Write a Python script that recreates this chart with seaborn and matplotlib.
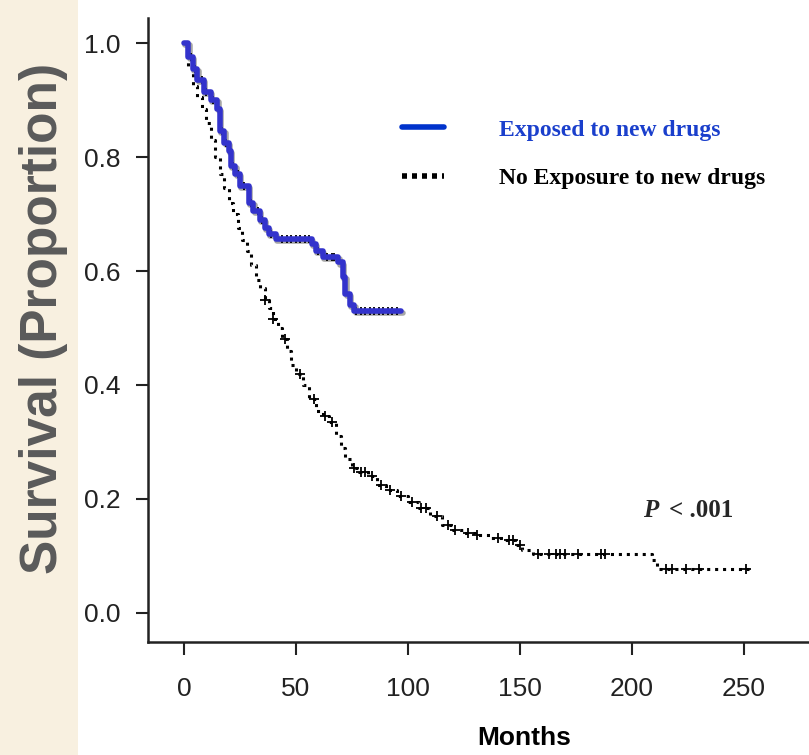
import numpy as np
import pandas as pd
import seaborn as sns
import matplotlib.pyplot as plt
import matplotlib.patheffects as pe
from matplotlib.patches import Rectangle
from matplotlib.lines import Line2D

# Kaplan-Meier step points (months, survival proportion)
exp_months = [0, 2, 4, 6, 9, 12, 15, 16, 18, 20, 21, 23, 25, 29, 31, 34, 36, 38, 41,
              57, 59, 62, 69, 71, 72, 74, 76, 97]
exp_surv = [1.0, 0.975, 0.955, 0.935, 0.915, 0.90, 0.885, 0.845, 0.825, 0.81, 0.785, 0.77,
            0.75, 0.72, 0.705, 0.69, 0.675, 0.665, 0.657, 0.648, 0.635, 0.625, 0.615, 0.59,
            0.56, 0.54, 0.53, 0.53]

noexp_months = [0, 2, 4, 6, 8, 10, 12, 14, 16, 18, 20, 22, 24, 26, 28, 30, 32, 34, 36, 38,
                40, 42, 44, 46, 48, 50, 53, 56, 59, 62, 65, 68, 70, 72, 75, 78, 82, 86, 90,
                95, 100, 105, 110, 115, 120, 125, 130, 137, 143, 148, 151, 156, 209, 211, 252]
noexp_surv = [1.0, 0.96, 0.925, 0.905, 0.885, 0.86, 0.83, 0.80, 0.77, 0.745, 0.72, 0.70,
              0.675, 0.655, 0.635, 0.61, 0.585, 0.57, 0.55, 0.535, 0.515, 0.50, 0.48, 0.46,
              0.435, 0.42, 0.40, 0.375, 0.355, 0.345, 0.335, 0.31, 0.29, 0.27, 0.255, 0.248,
              0.24, 0.225, 0.215, 0.205, 0.195, 0.185, 0.17, 0.155, 0.145, 0.14, 0.137, 0.131,
              0.128, 0.12, 0.11, 0.104, 0.093, 0.077, 0.077]

# censoring times
exp_censor = [3, 5, 8, 10, 13, 17, 19, 22, 24, 27, 30, 33, 35, 39, 44, 46, 48, 50, 52, 54,
              56, 60, 64, 66, 67, 77, 79, 81, 83, 85, 87, 89, 91, 93, 95]
noexp_censor = [36, 40, 45, 52, 58, 63, 66, 76, 79, 81, 84, 88, 92, 97, 102, 106, 108, 113,
                118, 121, 127, 131, 140, 145, 147, 150, 158, 163, 166, 168, 170, 176, 186,
                188, 215, 218, 224, 230, 251]

x_ticks = [0, 50, 100, 150, 200, 250]
y_ticks = [0.0, 0.2, 0.4, 0.6, 0.8, 1.0]
labels = ["Exposed to new drugs", "No Exposure to new drugs"]


def surv_at(t, months, surv):
    idx = np.searchsorted(months, t, side="right") - 1
    return np.array(surv)[idx]


sns.set_theme(style="white")
plt.rcParams["font.family"] = ["Liberation Sans", "DejaVu Sans"]

fig = plt.figure(figsize=(8.09, 7.55), dpi=100)
fig.patches.append(Rectangle((0, 0), 78 / 809, 1, transform=fig.transFigure,
                             facecolor="#f8f0e0", edgecolor="none", zorder=0))
ax = fig.add_axes([148 / 809, 1 - 642 / 755, 1 - 148 / 809, (642 - 18) / 755])
ax.set_facecolor("none")

df_exp = pd.DataFrame({"Months": exp_months, "Survival": exp_surv})
df_no = pd.DataFrame({"Months": noexp_months, "Survival": noexp_surv})

# no exposure curve: dotted with censor marks
sns.lineplot(data=df_no, x="Months", y="Survival", ax=ax, color="black", linewidth=2.2,
             drawstyle="steps-post", dashes=False, linestyle=(0, (1.0, 1.6)), zorder=2)
sns.scatterplot(x=noexp_censor, y=surv_at(noexp_censor, noexp_months, noexp_surv), ax=ax,
                marker="+", color="black", s=45, linewidth=1.3, zorder=2)

# exposed curve: black censor fuzz under a thick blue line
sns.scatterplot(x=exp_censor, y=surv_at(exp_censor, exp_months, exp_surv), ax=ax,
                marker="|", color="black", s=40, linewidth=1.3, zorder=3)
sns.lineplot(data=df_exp, x="Months", y="Survival", ax=ax, color="#3333cc", linewidth=4,
             drawstyle="steps-post", zorder=4,
             path_effects=[pe.SimpleLineShadow(offset=(1, -1.5), shadow_color="black", alpha=0.35),
                           pe.Normal()])

ax.set_xlim(-16, 279)
ax.set_ylim(-0.051, 1.044)
ax.set_xticks(x_ticks)
ax.set_yticks(y_ticks)
ax.set_xticklabels([str(v) for v in x_ticks])
ax.set_yticklabels([f"{v:.1f}" for v in y_ticks])
ax.tick_params(axis="both", labelsize=19, colors="#222222", direction="out",
               length=9, width=1.5, left=True, bottom=True)
ax.tick_params(axis="y", pad=11)
ax.tick_params(axis="x", pad=16)
for side in ["top", "right"]:
    ax.spines[side].set_visible(False)
for side in ["left", "bottom"]:
    ax.spines[side].set_color("#222222")
    ax.spines[side].set_linewidth(1.8)
ax.set_xlabel("")
ax.set_ylabel("")

# legend
handles = [Line2D([], [], color="#0033cc", linewidth=4),
           Line2D([], [], color="black", linewidth=4, linestyle=(0, (0.9, 0.9)))]
leg = ax.legend(handles, labels, loc="upper left", bbox_to_anchor=(0.384, 0.838),
                frameon=False, borderpad=0, borderaxespad=0, handlelength=1.8,
                handletextpad=2.3, labelspacing=1.15,
                prop={"family": "Liberation Serif", "weight": "bold", "size": 17})
leg.get_texts()[0].set_color("#1a3fcc")
leg.get_texts()[1].set_color("black")

# p-value
ax.text(205, 0.179, "P", fontfamily="Liberation Serif", fontweight="bold", fontstyle="italic",
        fontsize=18, ha="left", va="center")
ax.text(216.5, 0.179, "< .001", fontfamily="Liberation Serif", fontweight="bold",
        fontsize=18, ha="left", va="center")

# axis titles
fig.text(44 / 809, 1 - 318 / 755, "Survival (Proportion)", rotation=90, ha="center",
         va="center", fontsize=37, fontweight="bold", color="#5a5a5a")
fig.text(524 / 809, 1 - 738 / 755, "Months", ha="center", va="center", fontsize=19,
         fontweight="bold", color="black")

fig.savefig("out.png", dpi=100)
